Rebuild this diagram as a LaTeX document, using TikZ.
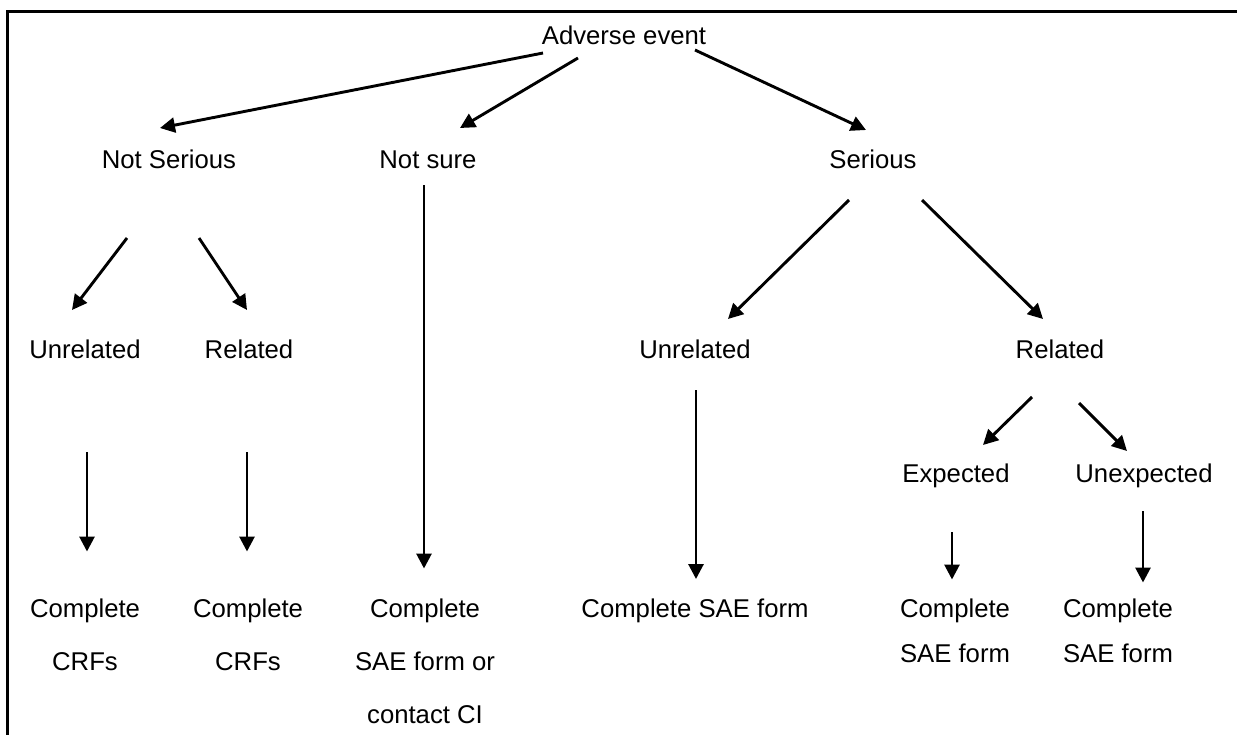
\documentclass[tikz,border=0pt]{standalone}
\usepackage{fontspec}
\setmainfont{Liberation Sans}
\usetikzlibrary{arrows.meta}
\begin{document}
\begin{tikzpicture}[x=1pt,y=-1pt,
  lbl/.style={inner sep=0pt, anchor=base, font=\fontsize{25.7}{30}\selectfont},
  multiA/.style={inner sep=0pt, anchor=north, align=center, font=\fontsize{25.7}{53}\selectfont},
  multiB/.style={inner sep=0pt, anchor=north, align=center, font=\fontsize{25.7}{45}\selectfont},
  arr/.style={line width=2.9pt, -{Triangle[length=15pt,width=15pt]}},
  frame/.style={line width=3pt}]
\useasboundingbox (0,0) rectangle (1237,734);
\fill[white] (0,0) rectangle (1237,734);
\draw[frame] (7.5,745) -- (7.5,11.5) -- (1250,11.5);

% nodes
\node[lbl] (ae) at (624,44) {Adverse event};
\node[lbl] (ns) at (169,168) {Not Serious};
\node[lbl] (nsure) at (428,168) {Not sure};
\node[lbl] (ser) at (873,168) {Serious};
\node[lbl] (u1) at (85,358) {Unrelated};
\node[lbl] (r1) at (249,358) {Related};
\node[lbl] (u2) at (695,358) {Unrelated};
\node[lbl] (r2) at (1060,358) {Related};
\node[lbl] (ex) at (956,482) {Expected};
\node[lbl] (unex) at (1144,482) {Unexpected};
\node[multiA] (c1) at (85,598.5) {Complete\\CRFs};
\node[multiA] (c2) at (248,598.5) {Complete\\CRFs};
\node[multiA] (c3) at (425,598.5) {Complete\\SAE form or\\contact CI};
\node[lbl] (c4) at (695,617) {Complete SAE form};
\node[multiB] (c5) at (955,598.5) {Complete\\SAE form};
\node[multiB] (c6) at (1118,598.5) {Complete\\SAE form};

% connectors
\draw[arr] ([shift={(-81,9)}]ae.base) -- ([shift={(-9,-40)}]ns.base);
\draw[arr] ([shift={(-46,14)}]ae.base) -- ([shift={(32,-40)}]nsure.base);
\draw[arr] ([shift={(71,6)}]ae.base) -- ([shift={(-7,-38)}]ser.base);
\draw[arr] ([shift={(-42,70)}]ns.base) -- ([shift={(-13,-48)}]u1.base);
\draw[arr] ([shift={(30,70)}]ns.base) -- ([shift={(-2,-48)}]r1.base);
\draw[arr] ([shift={(-4,17)}]nsure.base) -- ([shift={(-1,-30)}]c3.north);
\draw[arr] ([shift={(2,94)}]u1.base) -- ([shift={(2,-47)}]c1.north);
\draw[arr] ([shift={(-2,94)}]r1.base) -- ([shift={(-1,-47)}]c2.north);
\draw[arr] ([shift={(-24,32)}]ser.base) -- ([shift={(33,-39)}]u2.base);
\draw[arr] ([shift={(49,32)}]ser.base) -- ([shift={(-17,-39)}]r2.base);
\draw[arr] ([shift={(1,32)}]u2.base) -- ([shift={(1,-38)}]c4.base);
\draw[arr] ([shift={(-28,39)}]r2.base) -- ([shift={(27,-37)}]ex.base);
\draw[arr] ([shift={(19,45)}]r2.base) -- ([shift={(-17,-31)}]unex.base);
\draw[arr] ([shift={(-4,50)}]ex.base) -- ([shift={(-3,-19)}]c5.north);
\draw[arr] ([shift={(-1,29)}]unex.base) -- ([shift={(25,-16)}]c6.north);
\end{tikzpicture}
\end{document}
